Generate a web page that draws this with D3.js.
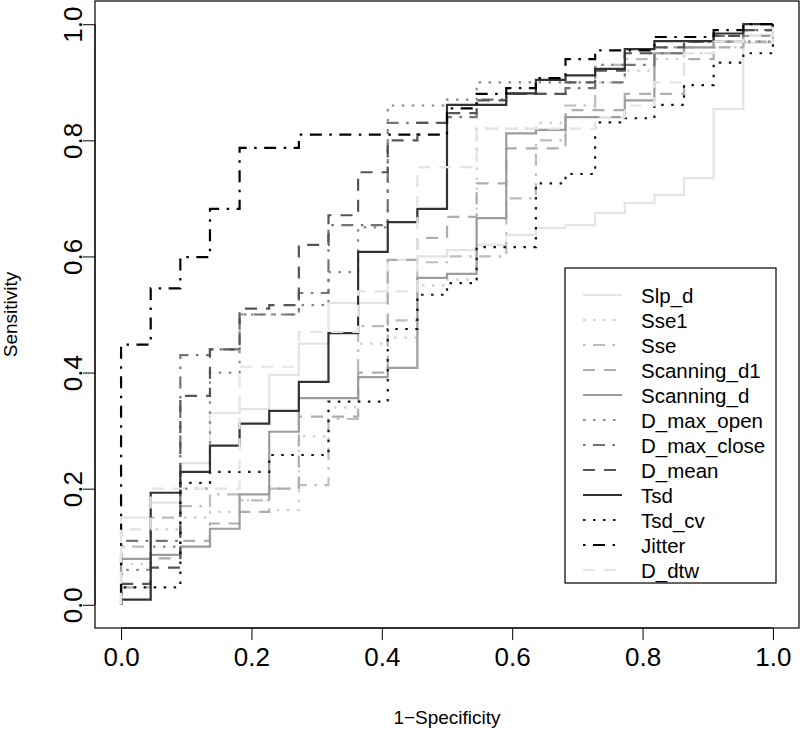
<!DOCTYPE html>
<html><head><meta charset="utf-8">
<script src="https://cdn.jsdelivr.net/npm/d3@7"></script>
<style>body{margin:0;background:#fff}svg{display:block}text{font-family:"Liberation Sans",Arial,sans-serif}</style>
</head><body>
<svg id="chart" width="800" height="729"></svg>
<script>
// FPR grid: 22 negatives -> steps of 1/22
const nNeg = 22;
const seriesNames = ["Slp_d","Sse1","Sse","Scanning_d1","Scanning_d","D_max_open","D_max_close","D_mean","Tsd","Tsd_cv","Jitter","D_dtw"];
// Sensitivity on each FPR interval [k/22,(k+1)/22], k = 0..21
const Slp_d       = [0.150,0.176,0.244,0.330,0.337,0.396,0.450,0.520,0.520,0.594,0.600,0.611,0.620,0.637,0.649,0.654,0.675,0.692,0.706,0.735,0.854,0.968];
const Sse1        = [0.070,0.130,0.150,0.160,0.180,0.163,0.290,0.340,0.450,0.460,0.550,0.560,0.820,0.820,0.830,0.840,0.900,0.920,0.940,0.950,0.960,0.970];
const Sse         = [0.100,0.150,0.170,0.190,0.180,0.200,0.206,0.320,0.480,0.490,0.590,0.600,0.600,0.700,0.800,0.860,0.930,0.940,0.950,0.960,0.970,0.980];
const Scanning_d1 = [0.030,0.080,0.110,0.140,0.160,0.200,0.324,0.324,0.400,0.594,0.632,0.668,0.726,0.786,0.786,0.852,0.852,0.880,0.880,0.940,0.960,0.970];
const Scanning_d  = [0.079,0.086,0.100,0.131,0.190,0.298,0.356,0.356,0.392,0.408,0.563,0.570,0.666,0.812,0.818,0.840,0.840,0.869,0.950,0.960,0.970,0.980];
const D_max_open  = [0.060,0.100,0.200,0.400,0.500,0.500,0.516,0.573,0.650,0.860,0.860,0.870,0.900,0.900,0.900,0.900,0.930,0.950,0.960,0.970,0.970,0.970];
const D_max_close = [0.110,0.110,0.430,0.440,0.500,0.500,0.537,0.654,0.654,0.830,0.830,0.840,0.870,0.880,0.880,0.890,0.900,0.930,0.950,0.970,0.980,0.990];
const D_mean      = [0.036,0.064,0.360,0.440,0.510,0.516,0.620,0.671,0.745,0.800,0.830,0.847,0.869,0.880,0.880,0.900,0.920,0.950,0.960,0.970,0.980,0.990];
const Tsd         = [0.009,0.193,0.229,0.274,0.312,0.334,0.384,0.468,0.608,0.659,0.682,0.861,0.861,0.881,0.904,0.912,0.923,0.957,0.971,0.971,0.984,1.000];
const Tsd_cv      = [0.030,0.030,0.210,0.229,0.229,0.258,0.258,0.350,0.350,0.475,0.534,0.554,0.616,0.616,0.726,0.742,0.831,0.838,0.861,0.895,0.934,0.950];
const Jitter      = [0.448,0.545,0.599,0.682,0.787,0.787,0.810,0.810,0.810,0.810,0.810,0.855,0.880,0.890,0.907,0.940,0.955,0.955,0.978,0.978,0.990,1.000];
const D_dtw       = [0.130,0.200,0.200,0.200,0.410,0.410,0.470,0.470,0.540,0.540,0.754,0.754,0.820,0.820,0.820,0.820,0.840,0.860,0.900,0.950,0.970,0.980];
const xTicks = [0,0.2,0.4,0.6,0.8,1.0];
const yTicks = [0,0.2,0.4,0.6,0.8,1.0];

const seriesValues = [Slp_d,Sse1,Sse,Scanning_d1,Scanning_d,D_max_open,D_max_close,D_mean,Tsd,Tsd_cv,Jitter,D_dtw];
const colors = ["#e4e4e4","#cdcdcd","#bdbdbd","#adadad","#9c9c9c","#888888","#737373","#555555","#333333","#141414","#000000","#e4e4e4"];
const ltys = ["solid","dotted","dotdash","dashed","solid","dotted","dotdash","dashed","solid","dotted","dotdash","dashed"];
const dash = {solid:null, dotted:"2.5,7.5", dashed:"12,9", dotdash:"2.5,7.5,12,7.5"};

const svg = d3.select("#chart");
const box = {l:95, r:799, t:1, b:628};
const x = d3.scaleLinear().domain([-0.04,1.04]).range([box.l, box.r]);
const y = d3.scaleLinear().domain([-0.04,1.04]).range([box.b, box.t]);

const line = d3.line().x(d=>x(d[0])).y(d=>y(d[1]));
function stepPoints(v){
  const pts = [[0,0],[0,v[0]]];
  v.forEach((val,k)=>{
    pts.push([(k+1)/nNeg, val]);
    if(k+1<v.length) pts.push([(k+1)/nNeg, v[k+1]]);
  });
  pts.push([1,1]);
  return pts;
}
const clipG = svg.append("g");
seriesValues.forEach((v,i)=>{
  clipG.append("path").attr("d", line(stepPoints(v)))
    .attr("fill","none").attr("stroke",colors[i]).attr("stroke-width",2.2)
    .attr("stroke-dasharray",dash[ltys[i]]);
});

// box
svg.append("rect").attr("x",box.l).attr("y",box.t).attr("width",box.r-box.l).attr("height",box.b-box.t)
  .attr("fill","none").attr("stroke","#000").attr("stroke-width",1.2);

// axes
const xAxis = d3.axisBottom(x).tickValues(xTicks).tickFormat(d3.format(".1f")).tickSize(12).tickPadding(8);
const gx = svg.append("g").attr("transform",`translate(0,${box.b})`).call(xAxis);
gx.select(".domain").attr("d",`M${x(0)},0H${x(1)}`);
gx.selectAll("text").attr("font-size",26).attr("font-family","Liberation Sans, Arial, sans-serif").attr("fill","#000");
gx.selectAll("line").attr("stroke","#000");

const yAxis = d3.axisLeft(y).tickValues(yTicks).tickFormat(d3.format(".1f")).tickSize(12);
const gy = svg.append("g").attr("transform",`translate(${box.l},0)`).call(yAxis);
gy.select(".domain").attr("d",`M0,${y(0)}V${y(1)}`);
gy.selectAll("text").attr("font-size",26).attr("font-family","Liberation Sans, Arial, sans-serif").attr("fill","#000")
  .attr("text-anchor","middle").attr("dy",0).attr("x",0)
  .attr("transform","translate(-13,0) rotate(-90)").attr("y",0);
gy.selectAll("line").attr("stroke","#000");

svg.append("text").attr("x",(x(0)+x(1))/2).attr("y",724).attr("text-anchor","middle").attr("font-size",19).text("1−Specificity");
svg.append("text").attr("transform",`translate(17,${(y(0)+y(1))/2}) rotate(-90)`).attr("text-anchor","middle").attr("font-size",19).text("Sensitivity");

// legend
const lg = svg.append("g");
lg.append("rect").attr("x",565).attr("y",268).attr("width",211).attr("height",315).attr("fill","#fff").attr("stroke","#000").attr("stroke-width",1.2);
seriesNames.forEach((name,i)=>{
  const yy = 295 + i*25;
  lg.append("line").attr("x1",583).attr("x2",622).attr("y1",yy).attr("y2",yy)
    .attr("stroke",colors[i]).attr("stroke-width",2.2).attr("stroke-dasharray",dash[ltys[i]]);
  lg.append("text").attr("x",641).attr("y",yy+7.5).attr("font-size",20.5).text(name);
});
</script>
</body></html>
